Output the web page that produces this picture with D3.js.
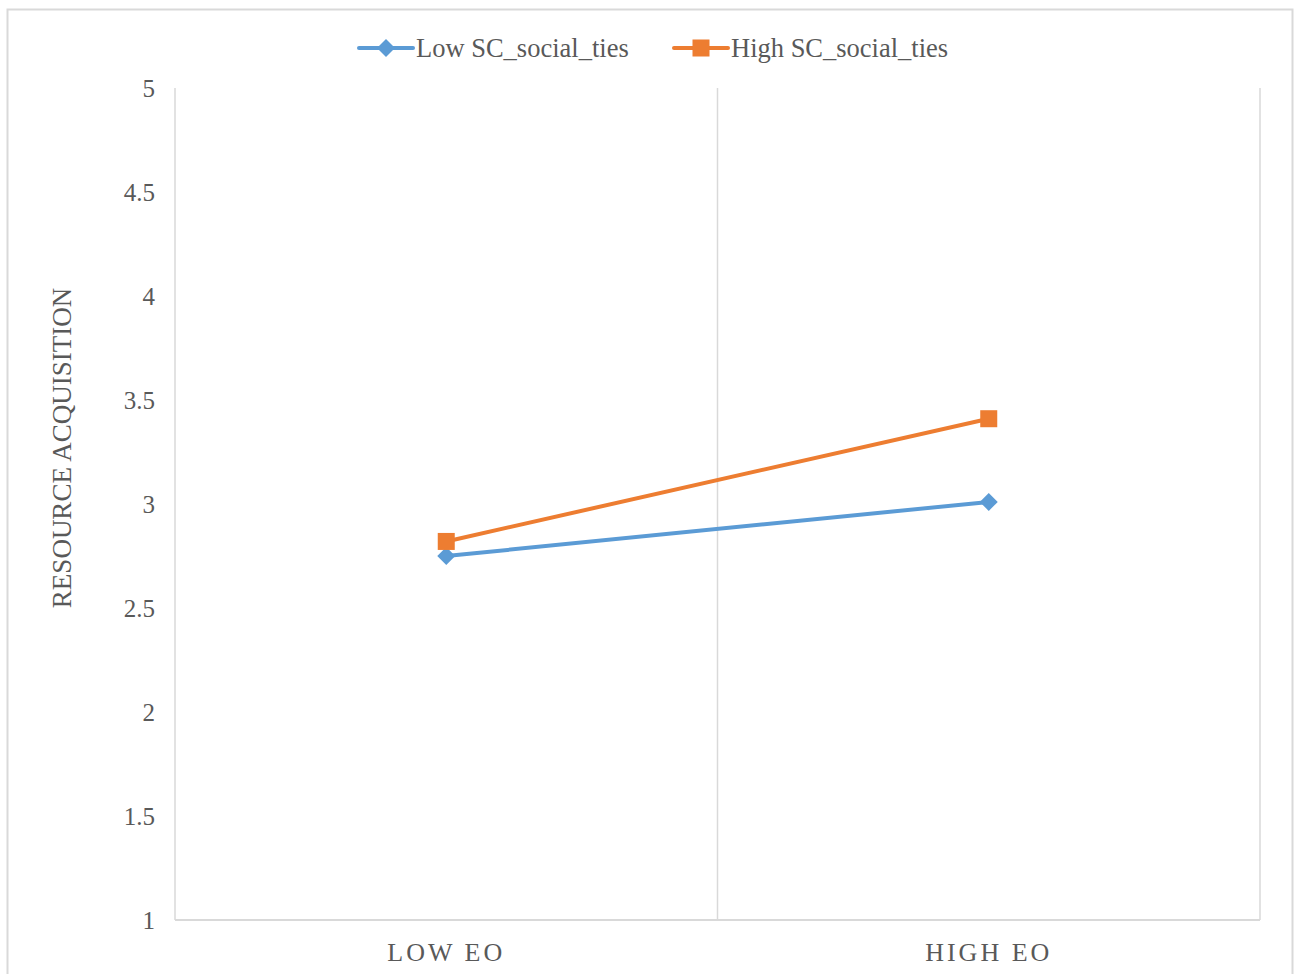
<!DOCTYPE html>
<html>
<head>
<meta charset="utf-8">
<script src="https://cdn.jsdelivr.net/npm/d3@7/dist/d3.min.js"></script>
<style>
  html, body { margin: 0; padding: 0; background: #fff; }
  svg text { font-family: "Liberation Serif", "Times New Roman", serif; fill: #595959; }
</style>
</head>
<body>
<svg id="chart" width="1298" height="974"></svg>
<script>
// Interaction plot: resource acquisition by EO level, split by social ties
const categories = ["LOW EO", "HIGH EO"];
const seriesNames = ["Low SC_social_ties", "High SC_social_ties"];
const lowSC = [2.75, 3.01];
const highSC = [2.82, 3.41];
const yTicks = [1, 1.5, 2, 2.5, 3, 3.5, 4, 4.5, 5];
const colors = ["#5b9bd5", "#ed7d31"];

const svg = d3.select("#chart");
const m = { left: 175, right: 1260, top: 88, bottom: 920 };

// outer chart frame
svg.append("rect")
  .attr("x", 7.5).attr("y", 9.5)
  .attr("width", 1285).attr("height", 980)
  .attr("fill", "#fff").attr("stroke", "#d9d9d9").attr("stroke-width", 2);

const x = d3.scaleBand().domain(categories).range([m.left, m.right]).padding(0);
const y = d3.scaleLinear().domain([1, 5]).range([m.bottom, m.top]);

// vertical category gridlines
const gx = [m.left, m.left + x.bandwidth(), m.right];
svg.append("g").selectAll("line").data(gx).join("line")
  .attr("x1", d => d).attr("x2", d => d)
  .attr("y1", m.top).attr("y2", m.bottom)
  .attr("stroke", "#d9d9d9").attr("stroke-width", 1.5);

// bottom axis line
svg.append("line")
  .attr("x1", m.left).attr("x2", m.right)
  .attr("y1", m.bottom).attr("y2", m.bottom)
  .attr("stroke", "#d9d9d9").attr("stroke-width", 2);

// y tick labels
const yAxis = d3.axisLeft(y).tickValues(yTicks).tickSize(0).tickPadding(20)
  .tickFormat(d => String(d));
const ya = svg.append("g").attr("transform", `translate(${m.left},0)`).call(yAxis);
ya.select(".domain").remove();
ya.selectAll("text").style("font-family", "Liberation Serif").style("font-size", "25px")
  .attr("fill", "#595959").attr("dy", "0.33em");

// x category labels
const xAxis = d3.axisBottom(x).tickSize(0).tickPadding(23);
const xa = svg.append("g").attr("transform", `translate(0,${m.bottom})`).call(xAxis);
xa.select(".domain").remove();
xa.selectAll("text").style("font-family", "Liberation Serif").style("font-size", "26px")
  .style("letter-spacing", "3px").attr("fill", "#595959");

// y axis title
svg.append("text")
  .attr("transform", `translate(71,448) rotate(-90)`)
  .attr("text-anchor", "middle")
  .style("font-size", "27px")
  .text("RESOURCE ACQUISITION");

const cx = d => x(d) + x.bandwidth() / 2;
const line = d3.line().x(d => cx(d.c)).y(d => y(d.v));

const series = [lowSC, highSC].map((vals, i) => ({
  name: seriesNames[i], color: colors[i],
  pts: vals.map((v, j) => ({ c: categories[j], v }))
}));

const diamond = s => `M0,${-s}L${s},0L0,${s}L${-s},0Z`;

series.forEach((s, i) => {
  svg.append("path").datum(s.pts)
    .attr("d", line).attr("fill", "none")
    .attr("stroke", s.color).attr("stroke-width", 4).attr("stroke-linecap", "round");
  const g = svg.append("g");
  s.pts.forEach(p => {
    if (i === 0) {
      g.append("path").attr("d", diamond(9))
        .attr("transform", `translate(${cx(p.c)},${y(p.v)})`).attr("fill", s.color);
    } else {
      g.append("rect").attr("x", cx(p.c) - 8.5).attr("y", y(p.v) - 8.5)
        .attr("width", 17).attr("height", 17).attr("fill", s.color);
    }
  });
});

// legend
const legendItems = [
  { x: 359, tx: 416 },
  { x: 674, tx: 731 }
];
const ly = 48;
series.forEach((s, i) => {
  const L = legendItems[i];
  svg.append("line").attr("x1", L.x).attr("x2", L.x + 54)
    .attr("y1", ly).attr("y2", ly)
    .attr("stroke", s.color).attr("stroke-width", 4).attr("stroke-linecap", "round");
  const mx = L.x + 27;
  if (i === 0) {
    svg.append("path").attr("d", diamond(9)).attr("transform", `translate(${mx},${ly})`).attr("fill", s.color);
  } else {
    svg.append("rect").attr("x", mx - 8.5).attr("y", ly - 8.5).attr("width", 17).attr("height", 17).attr("fill", s.color);
  }
  svg.append("text").attr("x", L.tx).attr("y", ly).attr("dy", "0.33em")
    .style("font-size", "26.5px").text(s.name);
});
</script>
</body>
</html>
